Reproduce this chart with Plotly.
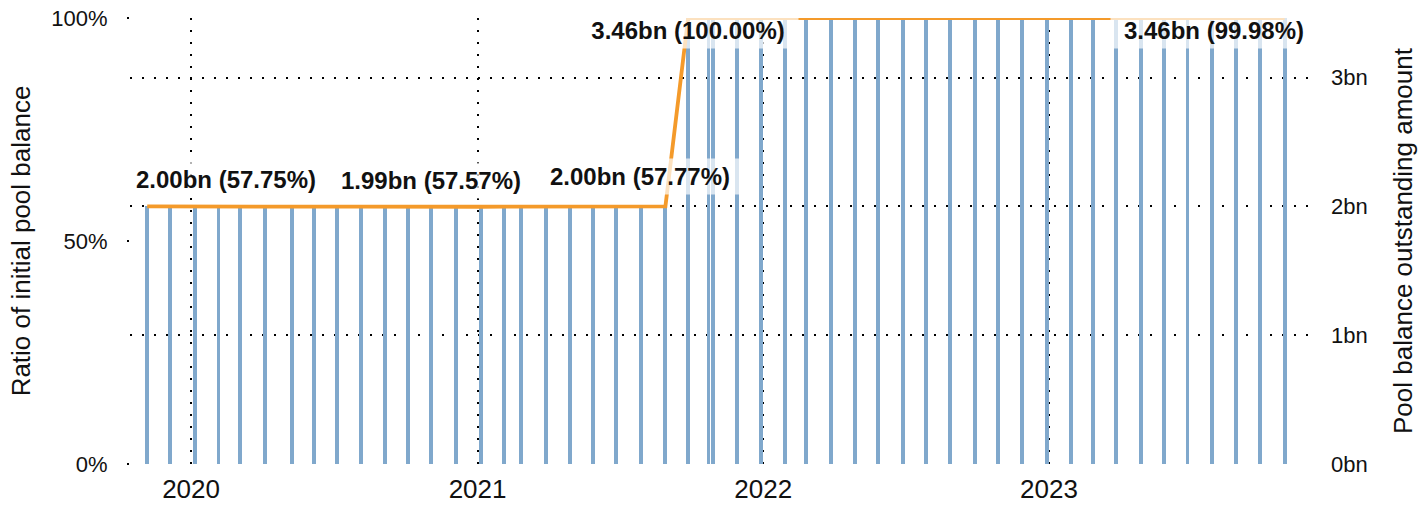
import plotly.graph_objects as go

# ---- data ----
dates = [
    "2019-11-06", "2019-12-05", "2020-01-06", "2020-02-05", "2020-03-04", "2020-04-05",
    "2020-05-09", "2020-06-06", "2020-07-05", "2020-08-05", "2020-09-05", "2020-10-04",
    "2020-11-03", "2020-12-05", "2021-01-05", "2021-02-04", "2021-02-26", "2021-03-29",
    "2021-04-29", "2021-05-29", "2021-06-27", "2021-07-29", "2021-08-29", "2021-09-27",
    "2021-10-23", "2021-10-29", "2021-11-28", "2021-12-29", "2022-01-29", "2022-02-25",
    "2022-03-29", "2022-04-28", "2022-05-28", "2022-06-28", "2022-07-28", "2022-08-28",
    "2022-09-28", "2022-10-28", "2022-11-28", "2022-12-29", "2023-01-29", "2023-02-26",
    "2023-03-28", "2023-04-28", "2023-05-28", "2023-06-27", "2023-07-28", "2023-08-28",
    "2023-09-27", "2023-10-29",
]
ratio_pct = [
    57.75, 57.72, 57.74, 57.71, 57.73, 57.70, 57.72, 57.71, 57.69, 57.70, 57.66, 57.62,
    57.57, 57.64, 57.68, 57.71, 57.72, 57.73, 57.74, 57.75, 57.74, 57.76, 57.77, 100.00,
    100.00, 100.00, 100.00, 100.00, 100.00, 99.99, 99.99, 99.99, 99.99, 99.99, 99.99, 99.99,
    99.99, 99.99, 99.99, 99.99, 99.99, 99.99, 99.98, 99.98, 99.98, 99.98, 99.98, 99.98,
    99.98, 99.98,
]
initial_balance_bn = 3.4632
balance_bn = [round(r / 100 * initial_balance_bn, 4) for r in ratio_pct]

year_ticks = ["2020-01-01", "2021-01-01", "2022-01-01", "2023-01-01"]
year_labels = ["2020", "2021", "2022", "2023"]
left_ticks = [0, 50, 100]
left_labels = ["0%", "50%", "100%"]
right_ticks = [0, 1, 2, 3]
right_labels = ["0bn", "1bn", "2bn", "3bn"]

# labelled points: index, horizontal shift (px), vertical shift (px)
label_idx = [0, 12, 22, 23, 49]
label_dx = [79, 0, -25, 0, -71]
label_dy = [27, 27, 30, -12, -12]
label_box_w = [198, 198, 198, 212, 198]

BLUE = "#80a8cc"
ORANGE = "#f49a2a"
FONT = "Liberation Sans, Arial, sans-serif"
DOT = "2px,10px"

fig = go.Figure()
fig.add_trace(go.Bar(
    x=dates, y=ratio_pct, yaxis="y",
    marker=dict(color=BLUE, line=dict(width=0)),
    width=5 * 86400000, showlegend=False,
))
fig.add_trace(go.Scatter(
    x=dates, y=balance_bn, yaxis="y2", mode="lines",
    line=dict(color=ORANGE, width=3.8), cliponaxis=False, showlegend=False,
))

for i, dx, dy, bw in zip(label_idx, label_dx, label_dy, label_box_w):
    fig.add_annotation(
        x=dates[i], y=balance_bn[i], xref="x", yref="y2",
        text=f"<b>{balance_bn[i]:.2f}bn ({ratio_pct[i]:.2f}%)</b>",
        showarrow=False, xshift=dx, yshift=dy, width=bw, align="center",
        font=dict(family=FONT, size=24, color="#111111"),
        bgcolor="rgba(255,255,255,0.7)", borderpad=4,
    )

fig.update_layout(
    width=1427, height=507,
    margin=dict(l=130, r=115, t=18, b=43, autoexpand=False),
    paper_bgcolor="white", plot_bgcolor="white",
    font=dict(family=FONT, color="#111111"),
    bargap=0,
    xaxis=dict(
        type="date", range=["2019-10-15", "2023-12-03"],
        tickvals=year_ticks, ticktext=year_labels,
        tickfont=dict(size=26), ticks="",
        showgrid=True, gridcolor="black", gridwidth=2, griddash=DOT,
        showline=False, zeroline=False, automargin=False,
        ticklabelstandoff=7,
    ),
    yaxis=dict(
        range=[0, 100], tickvals=left_ticks, ticktext=left_labels,
        tickfont=dict(size=22), ticks="outside", ticklen=2, tickwidth=2, tickcolor="black",
        showgrid=False, zeroline=False, showline=False, automargin=False,
        title=dict(text="Ratio of initial pool balance", font=dict(size=26), standoff=13),
        ticklabelstandoff=15, ticklabeloverflow="allow",
    ),
    yaxis2=dict(
        range=[0, initial_balance_bn], overlaying="y", side="right",
        tickvals=right_ticks, ticktext=right_labels,
        tickfont=dict(size=22), ticks="",
        showgrid=True, gridcolor="black", gridwidth=2, griddash=DOT,
        zeroline=False, showline=False, automargin=False,
        title=dict(text="Pool balance outstanding amount", font=dict(size=26), standoff=27),
        ticklabelstandoff=18, ticklabeloverflow="allow",
    ),
)

fig.write_html(
    "out.html",
    config={"displayModeBar": False},
    post_script="document.body.style.margin='0';document.body.style.overflow='hidden';",
)
